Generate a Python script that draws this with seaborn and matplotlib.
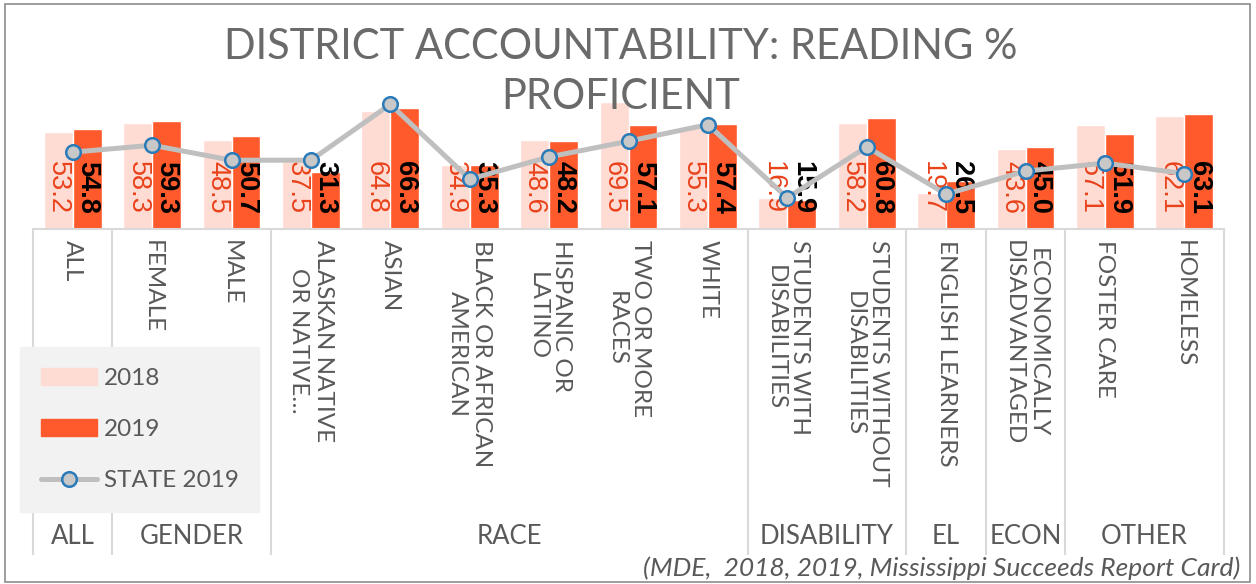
import matplotlib
matplotlib.use("Agg")
import matplotlib.pyplot as plt
import seaborn as sns
import pandas as pd
from matplotlib.patches import Patch, Rectangle
from matplotlib.lines import Line2D

# data
subgroups = ['ALL', 'FEMALE', 'MALE', 'ALASKAN NATIVE\nOR NATIVE…', 'ASIAN',
             'BLACK OR AFRICAN\nAMERICAN', 'HISPANIC OR\nLATINO', 'TWO OR MORE\nRACES',
             'WHITE', 'STUDENTS WITH\nDISABILITIES', 'STUDENTS WITHOUT\nDISABILITIES',
             'ENGLISH LEARNERS', 'ECONOMICALLY\nDISADVANTAGED', 'FOSTER CARE', 'HOMELESS']
pct_2018 = [53.2, 58.3, 48.5, 37.5, 64.8, 34.9, 48.6, 69.5, 55.3, 16.9, 58.2, 19.7, 43.6, 57.1, 62.1]
pct_2019 = [54.8, 59.3, 50.7, 31.3, 66.3, 35.3, 48.2, 57.1, 57.4, 15.9, 60.8, 26.5, 45.0, 51.9, 63.1]
state_2019 = [42.1, 45.9, 37.7, 37.7, 68.3, 27.3, 39.5, 48.1, 57.2, 17.1, 45.0, 19.1, 31.7, 36.1, 30.4]
groups = ['ALL', 'GENDER', 'RACE', 'DISABILITY', 'EL', 'ECON', 'OTHER']
group_sizes = [1, 2, 6, 2, 1, 1, 2]

c2018 = '#FFDCD3'
c2019 = '#FF5A2B'
grey_txt = '#595959'
sep = '#D9D9D9'

sns.set_style('white')
plt.rcParams['font.family'] = ['Lato', 'DejaVu Sans']

df = pd.DataFrame({
    'subgroup': subgroups * 2,
    'year': ['2018'] * len(subgroups) + ['2019'] * len(subgroups),
    'pct': pct_2018 + pct_2019,
})

W, H = 1256, 584
fig = plt.figure(figsize=(W / 100, H / 100), dpi=100)
ax = fig.add_axes([33 / W, 1 - 229 / H, (1224 - 33) / W, 146 / H])

sns.barplot(data=df, x='subgroup', y='pct', hue='year', palette=[c2018, c2019],
            width=0.73, saturation=1, legend=False, ax=ax, zorder=2)

sns.pointplot(x=subgroups, y=state_2019, color='#BFBFBF', markers='o', errorbar=None,
              linewidth=3.6, markersize=10.5, markerfacecolor='#C8C8C8',
              markeredgecolor='#2B7BB9', markeredgewidth=1.8, ax=ax, zorder=10)

# data labels at the base of the bars
for cont, col, wt in zip(ax.containers, ['#E8421A', 'black'], ['normal', 'bold']):
    for bar in cont:
        h = bar.get_height()
        ax.annotate(f'{h:.1f}', (bar.get_x() + bar.get_width() / 2, 0),
                    xytext=(0, 11), textcoords='offset points', rotation=-90,
                    ha='center', va='bottom', color=col, fontsize=19.5, fontweight=wt,
                    family='Liberation Sans', zorder=4)

ax.set_xlim(-0.5, len(subgroups) - 0.5)
ax.set_ylim(0, 80)
ax.set_yticks([])
ax.set_xlabel('')
ax.set_ylabel('')
for s in ['left', 'top', 'right']:
    ax.spines[s].set_visible(False)
ax.spines['bottom'].set_color(sep)
ax.spines['bottom'].set_linewidth(1.5)
ax.tick_params(axis='x', length=0, pad=8, labelrotation=-90, labelsize=17.5,
               labelcolor=grey_txt)

# group separators and group labels
bottom_ax = -(555 - 229) / 146
edges = [-0.5]
for n in group_sizes:
    edges.append(edges[-1] + n)
ax.vlines(edges, bottom_ax, 0, transform=ax.get_xaxis_transform(), color=sep,
          lw=1.5, clip_on=False)
for g, a, b in zip(groups, edges[:-1], edges[1:]):
    ax.text((a + b) / 2, -(537 - 229) / 146, g, transform=ax.get_xaxis_transform(),
            ha='center', va='center', fontsize=18.5, color=grey_txt)

fig.text(621 / W, 1 - 47 / H, 'DISTRICT ACCOUNTABILITY: READING %', ha='center',
         va='center', fontsize=30, color='#6A6A6A')
fig.text(621 / W, 1 - 97 / H, 'PROFICIENT', ha='center', va='center', fontsize=30,
         color='#6A6A6A')

handles = [Patch(color=c2018), Patch(color=c2019),
           Line2D([], [], color='#BFBFBF', lw=3.6, marker='o', markersize=10.5,
                  markerfacecolor='#C8C8C8', markeredgecolor='#2B7BB9',
                  markeredgewidth=1.8)]
leg = fig.legend(handles, ['2018', '2019', 'STATE 2019'], loc='upper left',
                 bbox_to_anchor=(20 / W, 1 - 347 / H), fontsize=17.5, frameon=True,
                 facecolor='#F2F2F2', edgecolor='#F2F2F2', fancybox=False,
                 borderpad=0.85, labelspacing=1.25, handlelength=2.3, handletextpad=0.3,
                 labelcolor=grey_txt, borderaxespad=0)
leg.get_frame().set_alpha(1)

fig.text(1240 / W, 1 - 568 / H, '(MDE,  2018, 2019, Mississippi Succeeds Report Card)',
         ha='right', va='center', fontsize=19, style='italic', color=grey_txt)

fig.patches.append(Rectangle((5 / W, 2 / H), 1245 / W, 578 / H, transform=fig.transFigure,
                             fill=False, edgecolor='#8C8C8C', lw=1.2))

fig.savefig('out.png', dpi=100)
